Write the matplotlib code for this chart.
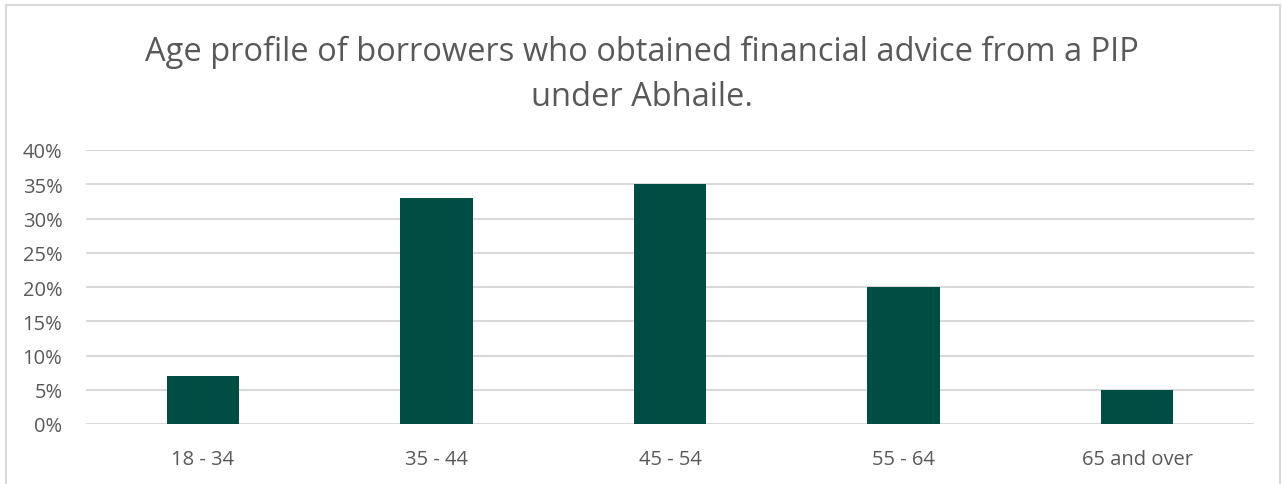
import numpy as np
import matplotlib.pyplot as plt
from matplotlib.patches import Rectangle
from matplotlib.ticker import PercentFormatter

plt.rcParams['font.family'] = ['Open Sans', 'DejaVu Sans']

age_groups = ["18 - 34", "35 - 44", "45 - 54", "55 - 64", "65 and over"]
share_pct = [7, 33, 35, 20, 5]

text_grey = "#595959"
grid_grey = "#D9D9D9"
bar_green = "#004D44"

fig = plt.figure(figsize=(12.83, 4.85), dpi=100)
ax = fig.add_axes([86 / 1283, 1 - 425 / 485, (1254 - 86) / 1283, (425 - 151) / 485])

x = np.arange(len(age_groups))
ax.bar(x, share_pct, width=0.31, color=bar_green, zorder=3)

ax.set_xlim(-0.5, len(age_groups) - 0.5)
ax.set_ylim(0, 40)
ax.set_yticks(range(0, 41, 5))
ax.yaxis.set_major_formatter(PercentFormatter(decimals=0))
ax.set_xticks(x)
ax.set_xticklabels(age_groups)

ax.grid(axis="y", color=grid_grey, linewidth=1.5, zorder=0)
for side in ["top", "right", "left", "bottom"]:
    ax.spines[side].set_visible(False)
ax.tick_params(axis="both", length=0, colors=text_grey, labelsize=14.5)
ax.tick_params(axis="x", pad=18)
ax.tick_params(axis="y", pad=17)

fig.text(0.5, 1 - 75 / 485,
         "Age profile of borrowers who obtained financial advice from a PIP\nunder Abhaile.",
         ha="center", va="center", fontsize=23.5, color=text_grey, linespacing=1.48)

# light frame around the chart area
fig.patches.append(Rectangle((6 / 1283, -0.05), (1280 - 6) / 1283, 1.05 - 6 / 485,
                             transform=fig.transFigure, fill=False,
                             edgecolor=grid_grey, linewidth=1.5))

fig.savefig("out.png", dpi=100)
